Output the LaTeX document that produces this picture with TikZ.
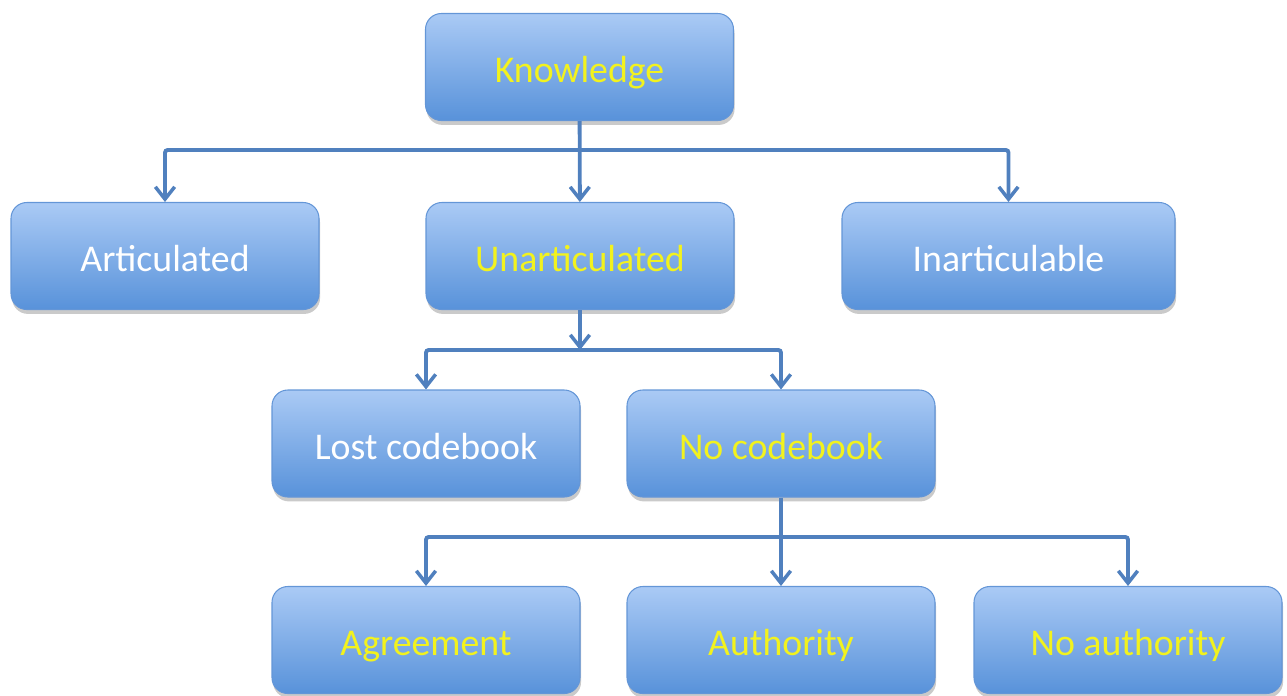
\documentclass[tikz,border=0pt]{standalone}
\usepackage{fontspec}
\setmainfont{Carlito}
\usetikzlibrary{arrows.meta,shadows}
\definecolor{boxtop}{RGB}{170,202,245}
\definecolor{boxbot}{RGB}{88,146,218}
\definecolor{boxline}{RGB}{100,150,215}
\definecolor{linkcol}{RGB}{80,128,190}
\definecolor{txtyel}{RGB}{242,242,30}
\tikzset{
	box/.style={draw=boxline,line width=.6pt,rounded corners=9pt,top color=boxtop,bottom color=boxbot,
		minimum width=6.16cm,minimum height=2.14cm,text=white,text height=22pt,text depth=4pt,
		font=\fontsize{21.5}{26}\selectfont,
		drop shadow={shadow xshift=.6pt,shadow yshift=-2.5pt,opacity=.35,fill=black!60}},
	ybox/.style={box,text=txtyel},
	conn/.style={draw=linkcol,line width=2.2pt,rounded corners=1.5pt,-{Straight Barb[length=7pt,width=11pt,line width=2pt]}}
}
\begin{document}
\begin{tikzpicture}
	\useasboundingbox(0,0)rectangle(25.74,-13.9);
	\node[ybox](kn)at(11.59,-1.34){Knowledge};
	\node[box](art)at(3.30,-5.12){Articulated};
	\node[ybox](unart)at(11.60,-5.12){Unarticulated};
	\node[box,minimum width=6.66cm](inart)at(20.17,-5.12){Inarticulable};
	\node[box](lost)at(8.52,-8.87){Lost codebook};
	\node[ybox](nocb)at(15.62,-8.87){No codebook};
	\node[ybox](agr)at(8.52,-12.8){Agreement};
	\node[ybox](auth)at(15.62,-12.8){Authority};
	\node[ybox](noauth)at(22.56,-12.8){No authority};
	\coordinate(j1)at(11.60,-3.0);
	\coordinate(j2)at(11.60,-7.0);
	\coordinate(j3)at(15.62,-10.74);
	\draw[conn](kn)--(unart);
	\draw[conn](j1)-|(art);
	\draw[conn](j1)-|(inart);
	\draw[conn](unart)--(j2);
	\draw[conn](j2)-|(lost);
	\draw[conn](j2)-|(nocb);
	\draw[conn](nocb)--(auth);
	\draw[conn](j3)-|(agr);
	\draw[conn](j3)-|(noauth);
\end{tikzpicture}
\end{document}
